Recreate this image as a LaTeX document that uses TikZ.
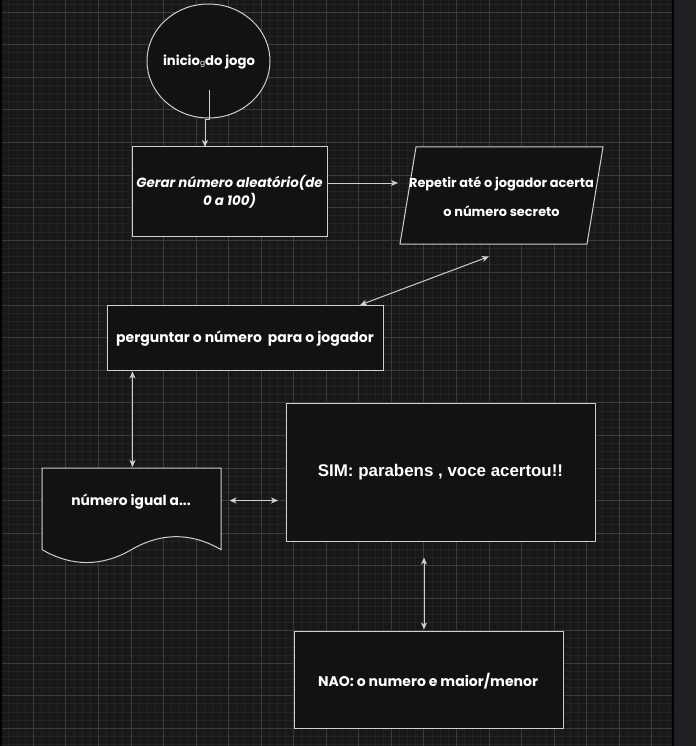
\documentclass[tikz,border=0pt]{standalone}
\usepackage{fontspec}
\setmainfont{Poppins}
\newfontfamily\arialfont{Liberation Sans}
\usetikzlibrary{arrows.meta,shapes.geometric}
\definecolor{bgc}{HTML}{181818}
\definecolor{minorc}{HTML}{232323}
\definecolor{majorc}{HTML}{3A3A3A}
\definecolor{fillc}{HTML}{121212}
\definecolor{edgec}{HTML}{CFCFCF}
\definecolor{panelc}{HTML}{202124}
\begin{document}
\begin{tikzpicture}[x=1pt,y=-1pt,
  shapebox/.style={draw=edgec, fill=fillc, line width=1pt, inner sep=0pt},
  lbl/.style={text=white, align=center, inner sep=0pt, font=\bfseries\fontsize{14}{16}\selectfont},
  conn/.style={draw=edgec, line width=1pt, -{Stealth[length=7pt,width=6pt,inset=2pt]}},
  dconn/.style={draw=edgec, line width=1pt, {Stealth[length=7pt,width=6pt,inset=2pt]}-{Stealth[length=7pt,width=6pt,inset=2pt]}}
]
\useasboundingbox (0,0) rectangle (696,746);
% background and grid
\fill[bgc] (0,0) rectangle (673,746);
\fill[panelc] (673,0) rectangle (696,746);
\fill[black] (0,0) rectangle (2,746);
\fill[black] (672,0) rectangle (674,746);
\begin{scope}
\clip (2,0) rectangle (672,746);
\foreach \i in {0,...,83} { \draw[minorc, line width=1pt] ({0.8+\i*8.1375},0) -- ++(0,746); }
\foreach \i in {0,...,92} { \draw[minorc, line width=1pt] (0,{4.16+\i*8.1375}) -- ++(673,0); }
\foreach \i in {0,...,20} { \draw[majorc, line width=1pt] ({0.8+\i*32.55},0) -- ++(0,746); }
\foreach \i in {0,...,22} { \draw[majorc, line width=1pt] (0,{12.3+\i*32.55}) -- ++(673,0); }
\end{scope}

% start ellipse
\node[shapebox, ellipse, minimum width=123pt, minimum height=114pt] (start) at (208.5,61) {};
\node[lbl, font=\bfseries\fontsize{13.2}{15}\selectfont] (starttxt) at (209,62) {inicio{\fontsize{7.5}{7}\selectfont\mdseries g}do jogo};

% Gerar box
\node[shapebox, minimum width=195pt, minimum height=89pt] (gerar) at (229.5,191.5) {};
\node[lbl, font=\bfseries\itshape\fontsize{13.4}{18}\selectfont] (gerartxt) at (229.5,192) {Gerar número aleatório(de\\0 a 100)};

% Repetir parallelogram
\draw[shapebox] (416,147) -- (603,147) -- (587,244) -- (400,244) -- cycle;
\node[lbl, font=\bfseries\fontsize{12.9}{28.5}\selectfont] (rep) at (501.5,196.5) {Repetir até o jogador acerta\\o número secreto};

% perguntar box
\node[shapebox, minimum width=276pt, minimum height=65pt] (ask) at (245,337.5) {};
\node[lbl] (asktxt) at (245,339) {perguntar o número \ para o jogador};

% document shape
\draw[shapebox] (42,468) -- (221,468) -- (221,549.6)
  .. controls (191.17,532.33) and (161.33,532.33) .. (131.5,549.6)
  .. controls (101.67,566.87) and (71.83,566.87) .. (42,549.6) -- cycle;
\node[lbl, font=\bfseries\fontsize{13.8}{16}\selectfont] (doc) at (131,502) {número igual a...};

% SIM box
\node[shapebox, minimum width=309pt, minimum height=138pt] (sim) at (440.5,472) {};
\node[lbl, font=\arialfont\bfseries\fontsize{16.9}{20}\selectfont] (simtxt) at (440.5,472) {SIM: parabens , voce acertou!!};

% NAO box
\node[shapebox, minimum width=269pt, minimum height=97pt] (nao) at (428.5,679.5) {};
\node[lbl, font=\bfseries\fontsize{14}{16}\selectfont] (naotxt) at (428,681) {NAO: o numero e maior/menor};

% connector end points
\coordinate (s0) at (209,90);
\coordinate (s1) at (209,120);
\coordinate (s2) at (205,120);
\coordinate (g0) at (205,147);
\coordinate (g1) at (327,183);
\coordinate (r0) at (398,183);
\coordinate (r1) at (489,256.5);
\coordinate (a0) at (360,305);
\coordinate (a1) at (132.5,371.5);
\coordinate (d0) at (132.5,467);
\coordinate (d1) at (229.5,500.5);
\coordinate (m0) at (278,500.5);
\coordinate (m1) at (424,557.5);
\coordinate (n0) at (424,629.5);

\draw[conn] (s0) -- (s1) -- (s2) -- (g0);
\draw[conn] (g1) -- (r0);
\draw[dconn] (r1) -- (a0);
\draw[dconn] (a1) -- (d0);
\draw[dconn] (d1) -- (m0);
\draw[dconn] (m1) -- (n0);
\end{tikzpicture}
\end{document}
